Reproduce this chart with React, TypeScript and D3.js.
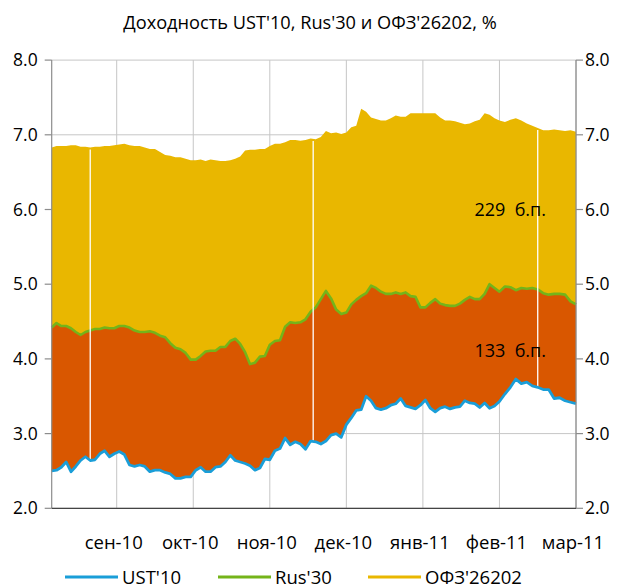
import React from "react";
import * as d3 from "d3";

const TITLE = "Доходность UST'10, Rus'30 и ОФЗ'26202, %";
const START = new Date(2010, 7, 5);
const STEP_DAYS = 2;

const ofz = [
  6.83, 6.85, 6.85, 6.85, 6.86, 6.86, 6.84, 6.84, 6.83, 6.84, 6.84, 6.85, 6.85, 6.86,
  6.87, 6.88, 6.86, 6.85, 6.85, 6.83, 6.81, 6.81, 6.77, 6.73, 6.72, 6.70, 6.70, 6.68, 6.66,
  6.66, 6.67, 6.65, 6.67, 6.66, 6.65, 6.65, 6.66, 6.68, 6.71, 6.79, 6.80, 6.80, 6.81, 6.81,
  6.85, 6.88, 6.88, 6.90, 6.93, 6.93, 6.92, 6.93, 6.95, 6.94, 6.97, 7.05, 7.02, 7.03, 7.01,
  7.03, 7.10, 7.12, 7.35, 7.31, 7.23, 7.21, 7.19, 7.19, 7.22, 7.26, 7.24, 7.24, 7.29, 7.29, 7.29,
  7.29, 7.29, 7.29, 7.23, 7.19, 7.19, 7.18, 7.16, 7.14, 7.15, 7.18, 7.20, 7.29, 7.27, 7.22,
  7.19, 7.17, 7.20, 7.22, 7.19, 7.15, 7.12, 7.09, 7.06, 7.06, 7.07, 7.06, 7.05, 7.06, 7.04,
];

const rus30 = [
  4.42, 4.48, 4.44, 4.44, 4.41, 4.36, 4.32, 4.36, 4.38, 4.40, 4.40, 4.42, 4.41, 4.41,
  4.44, 4.44, 4.42, 4.38, 4.36, 4.36, 4.37, 4.35, 4.31, 4.29, 4.21, 4.15, 4.13, 4.08, 3.99,
  3.99, 4.04, 4.10, 4.11, 4.11, 4.16, 4.16, 4.24, 4.27, 4.20, 4.09, 3.93, 3.95, 4.03, 4.04,
  4.19, 4.24, 4.25, 4.43, 4.49, 4.48, 4.49, 4.53, 4.63, 4.69, 4.80, 4.91, 4.81, 4.66, 4.60,
  4.62, 4.73, 4.79, 4.84, 4.88, 4.98, 4.95, 4.90, 4.87, 4.87, 4.89, 4.87, 4.89, 4.84, 4.83, 4.69,
  4.69, 4.75, 4.80, 4.74, 4.72, 4.71, 4.71, 4.74, 4.79, 4.83, 4.80, 4.80, 4.87, 5.00, 4.95,
  4.90, 4.97, 4.96, 4.92, 4.95, 4.94, 4.95, 4.93, 4.88, 4.86, 4.87, 4.87, 4.86, 4.77, 4.73,
];

const ust = [
  2.50, 2.51, 2.55, 2.62, 2.49, 2.56, 2.64, 2.69, 2.64, 2.65, 2.73, 2.77, 2.69, 2.73,
  2.76, 2.72, 2.58, 2.56, 2.58, 2.56, 2.49, 2.51, 2.51, 2.48, 2.46, 2.40, 2.40, 2.42, 2.42,
  2.51, 2.55, 2.49, 2.49, 2.55, 2.56, 2.62, 2.71, 2.64, 2.62, 2.60, 2.57, 2.51, 2.54, 2.66,
  2.65, 2.77, 2.80, 2.94, 2.85, 2.89, 2.86, 2.79, 2.90, 2.89, 2.86, 2.90, 2.98, 3.00, 2.95,
  3.12, 3.21, 3.31, 3.32, 3.50, 3.44, 3.34, 3.32, 3.34, 3.38, 3.40, 3.47, 3.37, 3.35, 3.33, 3.38,
  3.45, 3.34, 3.29, 3.34, 3.36, 3.33, 3.35, 3.36, 3.44, 3.41, 3.40, 3.35, 3.41, 3.34, 3.37,
  3.43, 3.53, 3.62, 3.73, 3.67, 3.69, 3.64, 3.62, 3.59, 3.59, 3.47, 3.48, 3.44, 3.42, 3.40,
];

const monthLabels = ["сен-10", "окт-10", "ноя-10", "дек-10", "янв-11", "фев-11", "мар-11"];
const monthStarts = [
  new Date(2010, 8, 1), new Date(2010, 9, 1), new Date(2010, 10, 1), new Date(2010, 11, 1),
  new Date(2011, 0, 1), new Date(2011, 1, 1), new Date(2011, 2, 1),
];
const yTicks = [2, 3, 4, 5, 6, 7, 8];
const markerDates = [new Date(2010, 7, 21), new Date(2010, 10, 18), new Date(2011, 1, 15)];

const seriesNames = ["UST'10", "Rus'30", "ОФЗ'26202"];
const annotations = [
  { text: "229  б.п.", value: 6.0 },
  { text: "133  б.п.", value: 4.11 },
];

const COLORS = { ust: "#1A9ED8", rus: "#74B41A", ofz: "#E9B700", orange: "#D95700" };

const W = 623, H = 588;
const L = 51.7, R = 576, T = 60.1, B = 508.3;
const FIRST_TICK = 116.7;
const MONTH_W = (R - FIRST_TICK) / (monthStarts.length - 1);
const FONT = "'Open Sans', 'Noto Sans', sans-serif";

export default function App() {
  const dates = ust.map((_, i) => d3.timeDay.offset(START, STEP_DAYS * i));
  const x = d3
    .scaleTime()
    .domain([START, ...monthStarts])
    .range([L, ...monthStarts.map((_, i) => FIRST_TICK + i * MONTH_W)]);
  const y = d3.scaleLinear().domain([2, 8]).range([B, T]);

  const rows = dates.map((d, i) => ({ d, u: ust[i], r: rus30[i], o: ofz[i] }));
  const areaOfz = d3.area<any>().x((p) => x(p.d)).y0((p) => y(p.u)).y1((p) => y(p.o));
  const areaRus = d3.area<any>().x((p) => x(p.d)).y0((p) => y(p.u)).y1((p) => y(p.r));
  const lineRus = d3.line<any>().x((p) => x(p.d)).y((p) => y(p.r));
  const lineUst = d3.line<any>().x((p) => x(p.d)).y((p) => y(p.u));

  const interp = (arr: number[], d: Date) => {
    const t = (d.getTime() - START.getTime()) / (STEP_DAYS * 86400000);
    const i = Math.floor(t);
    const f = t - i;
    return arr[i] + (arr[Math.min(i + 1, arr.length - 1)] - arr[i]) * f;
  };

  const legendColors = [COLORS.ust, COLORS.rus, COLORS.ofz];
  const legendX = [65, 218, 368];

  return (
    <svg width={W} height={H} style={{ position: "absolute", left: 0, top: 0 }} fontFamily={FONT}>
      <rect width={W} height={H} fill="#fff" />
      <text x={310} y={29} textAnchor="middle" fontSize={18.2} fill="#000">
        {TITLE}
      </text>
      {yTicks.map((t) => (
        <line key={"h" + t} x1={L} x2={R} y1={y(t)} y2={y(t)} stroke="#c6c6c6" strokeWidth={1} />
      ))}
      {monthStarts.map((m, i) => (
        <line key={"v" + i} x1={x(m)} x2={x(m)} y1={T} y2={B} stroke="#c6c6c6" strokeWidth={1} />
      ))}
      <path d={areaOfz(rows) as string} fill={COLORS.ofz} />
      <path d={areaRus(rows) as string} fill={COLORS.orange} />
      <path d={lineRus(rows) as string} fill="none" stroke={COLORS.rus} strokeWidth={2.6} strokeLinejoin="round" />
      {markerDates.map((d, i) => (
        <line
          key={"m" + i}
          x1={x(d)}
          x2={x(d)}
          y1={y(interp(ofz, d)) + 2}
          y2={y(interp(ust, d))}
          stroke="#fff"
          strokeWidth={1.3}
        />
      ))}
      <path d={lineUst(rows) as string} fill="none" stroke={COLORS.ust} strokeWidth={2.8} strokeLinejoin="round" />
      <line x1={L} x2={L} y1={T} y2={B} stroke="#8c8c8c" strokeWidth={1.2} />
      <line x1={R} x2={R} y1={T} y2={B} stroke="#8c8c8c" strokeWidth={1.2} />
      <line x1={L} x2={R} y1={B} y2={B} stroke="#444" strokeWidth={1.3} />
      {yTicks.map((t) => (
        <g key={"t" + t}>
          <line x1={L - 7} x2={L} y1={y(t)} y2={y(t)} stroke="#8c8c8c" strokeWidth={1.2} />
          <line x1={R} x2={R + 7} y1={y(t)} y2={y(t)} stroke="#8c8c8c" strokeWidth={1.2} />
          <text x={L - 14} y={y(t) + 6} textAnchor="end" fontSize={17.5} fill="#000">
            {t.toFixed(1)}
          </text>
          <text x={R + 9} y={y(t) + 6} textAnchor="start" fontSize={17.5} fill="#000">
            {t.toFixed(1)}
          </text>
        </g>
      ))}
      {monthStarts.map((m, i) => (
        <text key={"ml" + i} x={x(m) - 3} y={549} textAnchor="middle" fontSize={18.5} fill="#000">
          {monthLabels[i]}
        </text>
      ))}
      {annotations.map((a, i) => (
        <text key={"a" + i} x={546} y={y(a.value) + 6} textAnchor="end" fontSize={18} fill="#000" style={{ whiteSpace: "pre" }}>
          {a.text}
        </text>
      ))}
      {seriesNames.map((s, i) => (
        <g key={"lg" + i}>
          <line x1={legendX[i]} x2={legendX[i] + 53} y1={577} y2={577} stroke={legendColors[i]} strokeWidth={3} />
          <text x={legendX[i] + 57} y={583.5} fontSize={18.5} fill="#000">
            {s}
          </text>
        </g>
      ))}
    </svg>
  );
}
